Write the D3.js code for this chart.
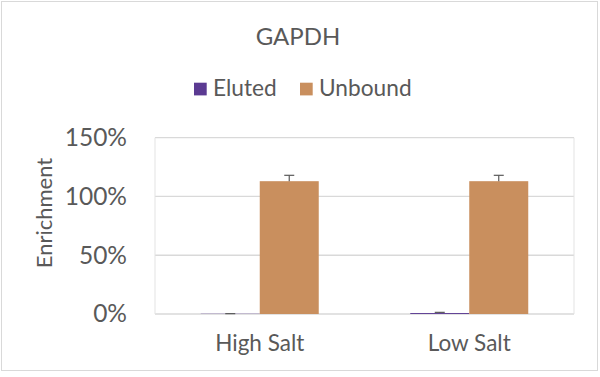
<!DOCTYPE html>
<html><head><meta charset="utf-8">
<script src="https://cdn.jsdelivr.net/npm/d3@7"></script>
<style>body{margin:0;background:#fff;} svg{display:block;}</style>
</head><body>
<svg id="c" width="600" height="377"></svg>
<script>
const categories = ["High Salt", "Low Salt"];
const seriesNames = ["Eluted", "Unbound"];
const eluted = [0.002, 0.008];
const elutedErr = [0.001, 0.006];
const unbound = [1.13, 1.13];
const unboundErr = [0.05, 0.05];
const yTicks = [0, 0.5, 1.0, 1.5];
const colors = ["#5b3a92", "#c98f5e"];

const svg = d3.select("#c");
const font = "Lato, 'Open Sans', sans-serif";
const textColor = "#595959";
const m = {left:155, right:574, top:137.7, bottom:314};

svg.append("rect").attr("x",1.5).attr("y",1.5).attr("width",596).attr("height",369)
  .attr("fill","#fff").attr("stroke","#d9d9d9");

const x = d3.scaleBand().domain(categories).range([m.left, m.right])
  .paddingInner(0.4368).paddingOuter(0.2184);
const xs = d3.scaleBand().domain(seriesNames).range([0, x.bandwidth()]);
const y = d3.scaleLinear().domain([0, 1.5]).range([m.bottom, m.top]);

// grid
svg.append("g").selectAll("line").data(yTicks).join("line")
  .attr("x1", m.left).attr("x2", m.right)
  .attr("y1", d=>y(d)).attr("y2", d=>y(d))
  .attr("stroke","#d9d9d9").attr("stroke-width",1.3);
svg.append("line").attr("x1",m.left).attr("x2",m.left).attr("y1",m.top).attr("y2",m.bottom).attr("stroke","#e3e3e3");
svg.append("line").attr("x1",m.right).attr("x2",m.right).attr("y1",m.top).attr("y2",m.bottom).attr("stroke","#e3e3e3");

// y axis
const yAxis = d3.axisLeft(y).tickValues(yTicks).tickFormat(d3.format(".0%")).tickSize(0).tickPadding(28);
const ga = svg.append("g").attr("transform",`translate(${m.left},0)`).call(yAxis);
ga.select(".domain").remove();
ga.selectAll("text").attr("font-family",font).attr("font-size",24.5).attr("fill",textColor);

// x axis
const xAxis = d3.axisBottom(x).tickSize(0).tickPadding(21);
const gx = svg.append("g").attr("transform",`translate(0,${m.bottom})`).call(xAxis);
gx.select(".domain").remove();
gx.selectAll("text").attr("font-family",font).attr("font-size",22.5).attr("fill",textColor);

const data = [
  {vals: eluted, errs: elutedErr, name: seriesNames[0], color: colors[0]},
  {vals: unbound, errs: unboundErr, name: seriesNames[1], color: colors[1]}
];
data.forEach(s => {
  const g = svg.append("g");
  categories.forEach((c, i) => {
    const bx = x(c) + xs(s.name);
    g.append("rect").attr("x", bx).attr("width", xs.bandwidth())
      .attr("y", y(s.vals[i])).attr("height", y(0) - y(s.vals[i])).attr("fill", s.color);
    const cx = bx + xs.bandwidth()/2;
    const top = y(s.vals[i] + s.errs[i]);
    g.append("line").attr("x1",cx).attr("x2",cx).attr("y1",y(s.vals[i])).attr("y2",top)
      .attr("stroke","#595959").attr("stroke-width",1.2);
    g.append("line").attr("x1",cx-5).attr("x2",cx+5).attr("y1",top).attr("y2",top)
      .attr("stroke","#595959").attr("stroke-width",1.2);
  });
});

// title
svg.append("text").attr("x",298).attr("y",45).attr("text-anchor","middle")
  .attr("font-family",font).attr("font-size",24).attr("fill",textColor).text("GAPDH");

// legend
const legX = [194, 300];
seriesNames.forEach((n,i) => {
  svg.append("rect").attr("x",legX[i]).attr("y",82.7).attr("width",12.7).attr("height",12.7).attr("fill",colors[i]);
  svg.append("text").attr("x",legX[i]+19).attr("y",95.5).attr("font-family",font).attr("font-size",22.7)
    .attr("fill",textColor).text(n);
});

// y title
svg.append("text").attr("transform","translate(51.5,213) rotate(-90)").attr("text-anchor","middle")
  .attr("font-family",font).attr("font-size",22).attr("fill",textColor).text("Enrichment");
</script>
</body></html>
